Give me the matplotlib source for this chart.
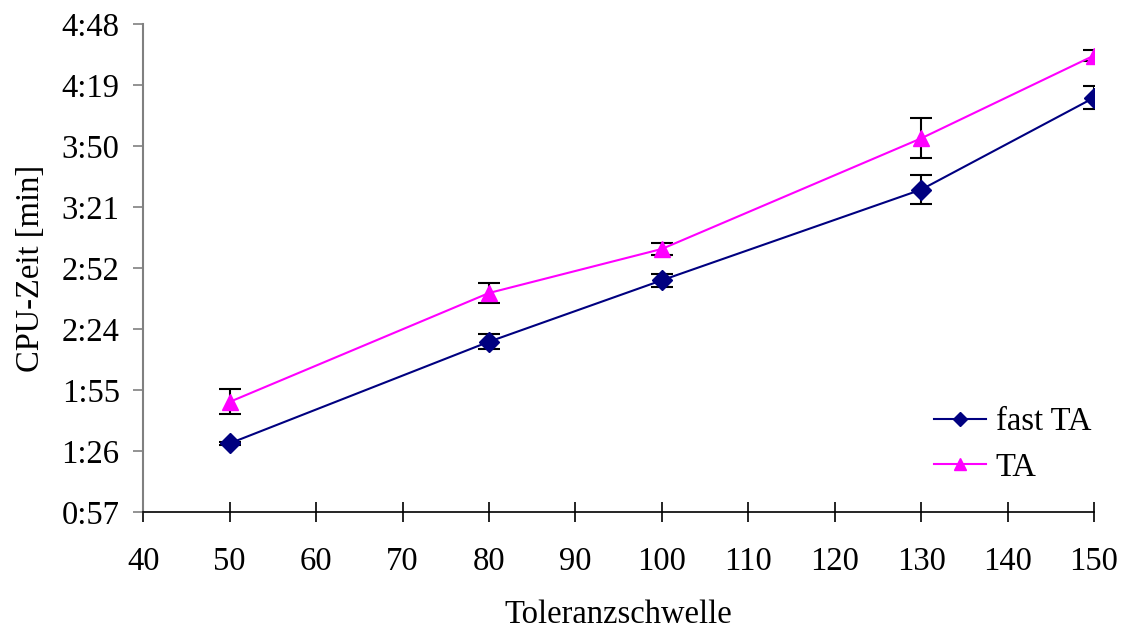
import matplotlib.pyplot as plt
from matplotlib.ticker import FuncFormatter

plt.rcParams["font.family"] = ["Liberation Serif", "DejaVu Serif"]

# Toleranzschwelle
x_vals = [50, 80, 100, 130, 150]

# CPU time in seconds
fast_ta = [90.0, 138.0, 167.0, 209.8, 253.2]
fast_ta_err = [0.7, 3.5, 3.0, 6.9, 5.3]
ta = [109.6, 161.0, 181.8, 234.0, 273.1]
ta_err = [5.9, 4.6, 2.9, 9.4, 2.6]

y_ticks = [57.6 + 28.8 * i for i in range(9)]
x_ticks = list(range(40, 151, 10))

FS = 23.5


def mmss(v, pos=None):
    s = int(v + 1e-6)
    return f"{s // 60}:{s % 60:02d}"


def main():
    fig = plt.figure(figsize=(11.25, 6.35), dpi=100)
    ax = fig.add_axes([143.3 / 1125, 1 - 512 / 635, (1094 - 143.3) / 1125, (512 - 24) / 635])

    ax.errorbar(x_vals, fast_ta, yerr=fast_ta_err, color="#000080", marker="D",
                markersize=10, lw=1.5, ecolor="black", elinewidth=1.5, capsize=8,
                capthick=1.5, label="fast TA", zorder=3)
    ax.errorbar(x_vals, ta, yerr=ta_err, color="#FF00FF", marker="^",
                markersize=12, lw=1.5, ecolor="black", elinewidth=1.5, capsize=8,
                capthick=1.5, label="TA", zorder=3)

    ax.set_xlim(40, 150)
    ax.set_ylim(y_ticks[0], y_ticks[-1])
    ax.set_xticks(x_ticks)
    ax.set_yticks(y_ticks)
    ax.yaxis.set_major_formatter(FuncFormatter(mmss))

    for side in ("top", "right"):
        ax.spines[side].set_visible(False)
    ax.spines["left"].set_color("#808080")
    ax.spines["left"].set_linewidth(1.5)
    ax.spines["bottom"].set_color("black")
    ax.spines["bottom"].set_linewidth(1.2)

    ax.tick_params(axis="y", direction="out", length=7, width=1.2, color="#808080",
                   labelsize=FS, pad=10)
    ax.tick_params(axis="x", direction="inout", length=14, width=1.2, color="black",
                   labelsize=FS, pad=18)

    ax.set_xlabel("Toleranzschwelle", fontsize=FS, labelpad=16)
    ax.set_ylabel("CPU-Zeit [min]", fontsize=FS, labelpad=11)

    handles, labels = ax.get_legend_handles_labels()
    handles = [h[0] for h in handles]
    ax.legend(handles, labels, loc="lower right", bbox_to_anchor=(1.028, 0.0),
              frameon=False, fontsize=FS, handlelength=1.6, handletextpad=0.3,
              labelspacing=0.45, markerscale=0.75)

    fig.savefig("out.png", dpi=100)


if __name__ == "__main__":
    main()
